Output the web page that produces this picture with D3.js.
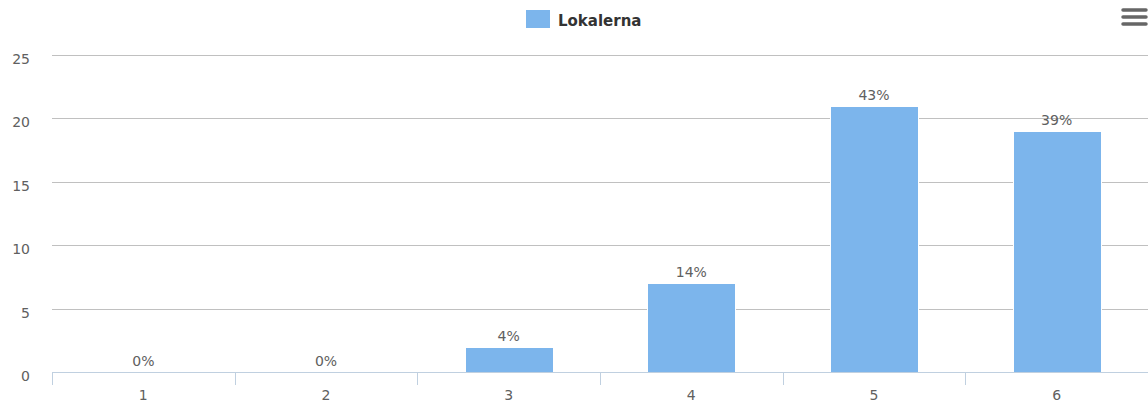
<!DOCTYPE html>
<html>
<head>
<meta charset="utf-8">
<script src="https://cdnjs.cloudflare.com/ajax/libs/d3/7.8.5/d3.min.js"></script>
<style>
  body { margin: 0; background: #fff; }
  svg { display: block; font-family: "DejaVu Sans", Verdana, sans-serif; }
</style>
</head>
<body>
<svg id="chart"></svg>
<script>
// chart data
const categories = ["1", "2", "3", "4", "5", "6"];
const values = [0, 0, 2, 7, 21, 19];
const percentLabels = ["0%", "0%", "4%", "14%", "43%", "39%"];
const yTicks = [0, 5, 10, 15, 20, 25];
const seriesName = "Lokalerna";

var svgWidth = 1148, svgHeight = 411;
var margin = {top: 55, right: 0, bottom: 39, left: 52};
var w = svgWidth - margin.left - margin.right;
var h = svgHeight - margin.top - margin.bottom;

var svg = d3.select("#chart")
	.attr("width", svgWidth)
	.attr("height", svgHeight);

var x = d3.scaleBand().domain(categories).range([0, w]);
var y = d3.scaleLinear().domain([0, 25]).range([h, 0]);

var g = svg.append("g").attr("transform", "translate(" + margin.left + "," + margin.top + ")");

// gridlines
g.selectAll("line.grid")
	.data(yTicks.filter(function(d) { return d > 0; }))
	.enter()
	.append("line")
	.attr("class", "grid")
	.attr("x1", 0).attr("x2", w)
	.attr("y1", function(d) { return Math.round(y(d)) + 0.5; })
	.attr("y2", function(d) { return Math.round(y(d)) + 0.5; })
	.attr("stroke", "#c0c0c0");

// y axis labels
g.selectAll("text.ylab")
	.data(yTicks)
	.enter()
	.append("text")
	.attr("class", "ylab")
	.attr("x", -22)
	.attr("y", function(d) { return y(d) + 9; })
	.attr("text-anchor", "end")
	.attr("fill", "#606060")
	.style("font-size", "14px")
	.text(function(d) { return d; });

// bars
g.selectAll("rect.bar")
	.data(values)
	.enter()
	.append("rect")
	.attr("class", "bar")
	.attr("x", function(d, i) { return Math.round(x(categories[i]) + x.bandwidth() / 2 - 44) + 0.5; })
	.attr("width", 88)
	.attr("y", function(d) { return Math.round(y(d)) + 0.5; })
	.attr("height", function(d) { return Math.max(0, h - Math.round(y(d))); })
	.attr("fill", "#7cb5ec")
	.attr("stroke", "#ffffff")
	.attr("stroke-width", 1);

// data labels
g.selectAll("text.dlab")
	.data(values)
	.enter()
	.append("text")
	.attr("class", "dlab")
	.attr("x", function(d, i) { return x(categories[i]) + x.bandwidth() / 2; })
	.attr("y", function(d) { return y(d) - 6; })
	.attr("text-anchor", "middle")
	.attr("fill", "#606060")
	.style("font-size", "14px")
	.text(function(d, i) { return percentLabels[i]; });

// x axis
var xAxis = g.append("g").attr("transform", "translate(0," + h + ")");
xAxis.append("line")
	.attr("x1", 0).attr("x2", w)
	.attr("y1", 0.5).attr("y2", 0.5)
	.attr("stroke", "#c0d0e0");
xAxis.selectAll("line.tick")
	.data(categories)
	.enter()
	.append("line")
	.attr("class", "tick")
	.attr("x1", function(d) { return Math.round(x(d)) + 0.5; })
	.attr("x2", function(d) { return Math.round(x(d)) + 0.5; })
	.attr("y1", 0).attr("y2", 13)
	.attr("stroke", "#c0d0e0");
xAxis.selectAll("text")
	.data(categories)
	.enter()
	.append("text")
	.attr("x", function(d) { return x(d) + x.bandwidth() / 2; })
	.attr("y", 28)
	.attr("text-anchor", "middle")
	.attr("fill", "#606060")
	.style("font-size", "14px")
	.text(function(d) { return d; });

// legend
var legend = svg.append("g");
legend.append("rect")
	.attr("x", 526).attr("y", 10)
	.attr("width", 24).attr("height", 18)
	.attr("fill", "#7cb5ec");
legend.append("text")
	.attr("x", 558).attr("y", 26)
	.attr("fill", "#333333")
	.style("font-size", "15px")
	.style("font-weight", "bold")
	.text(seriesName);

// menu icon
svg.selectAll("line.menu")
	.data([10, 17, 24])
	.enter()
	.append("line")
	.attr("class", "menu")
	.attr("x1", 1123).attr("x2", 1146)
	.attr("y1", function(d) { return d; })
	.attr("y2", function(d) { return d; })
	.attr("stroke", "#666666")
	.attr("stroke-width", 3.5)
	.attr("stroke-linecap", "round");
</script>
</body>
</html>
